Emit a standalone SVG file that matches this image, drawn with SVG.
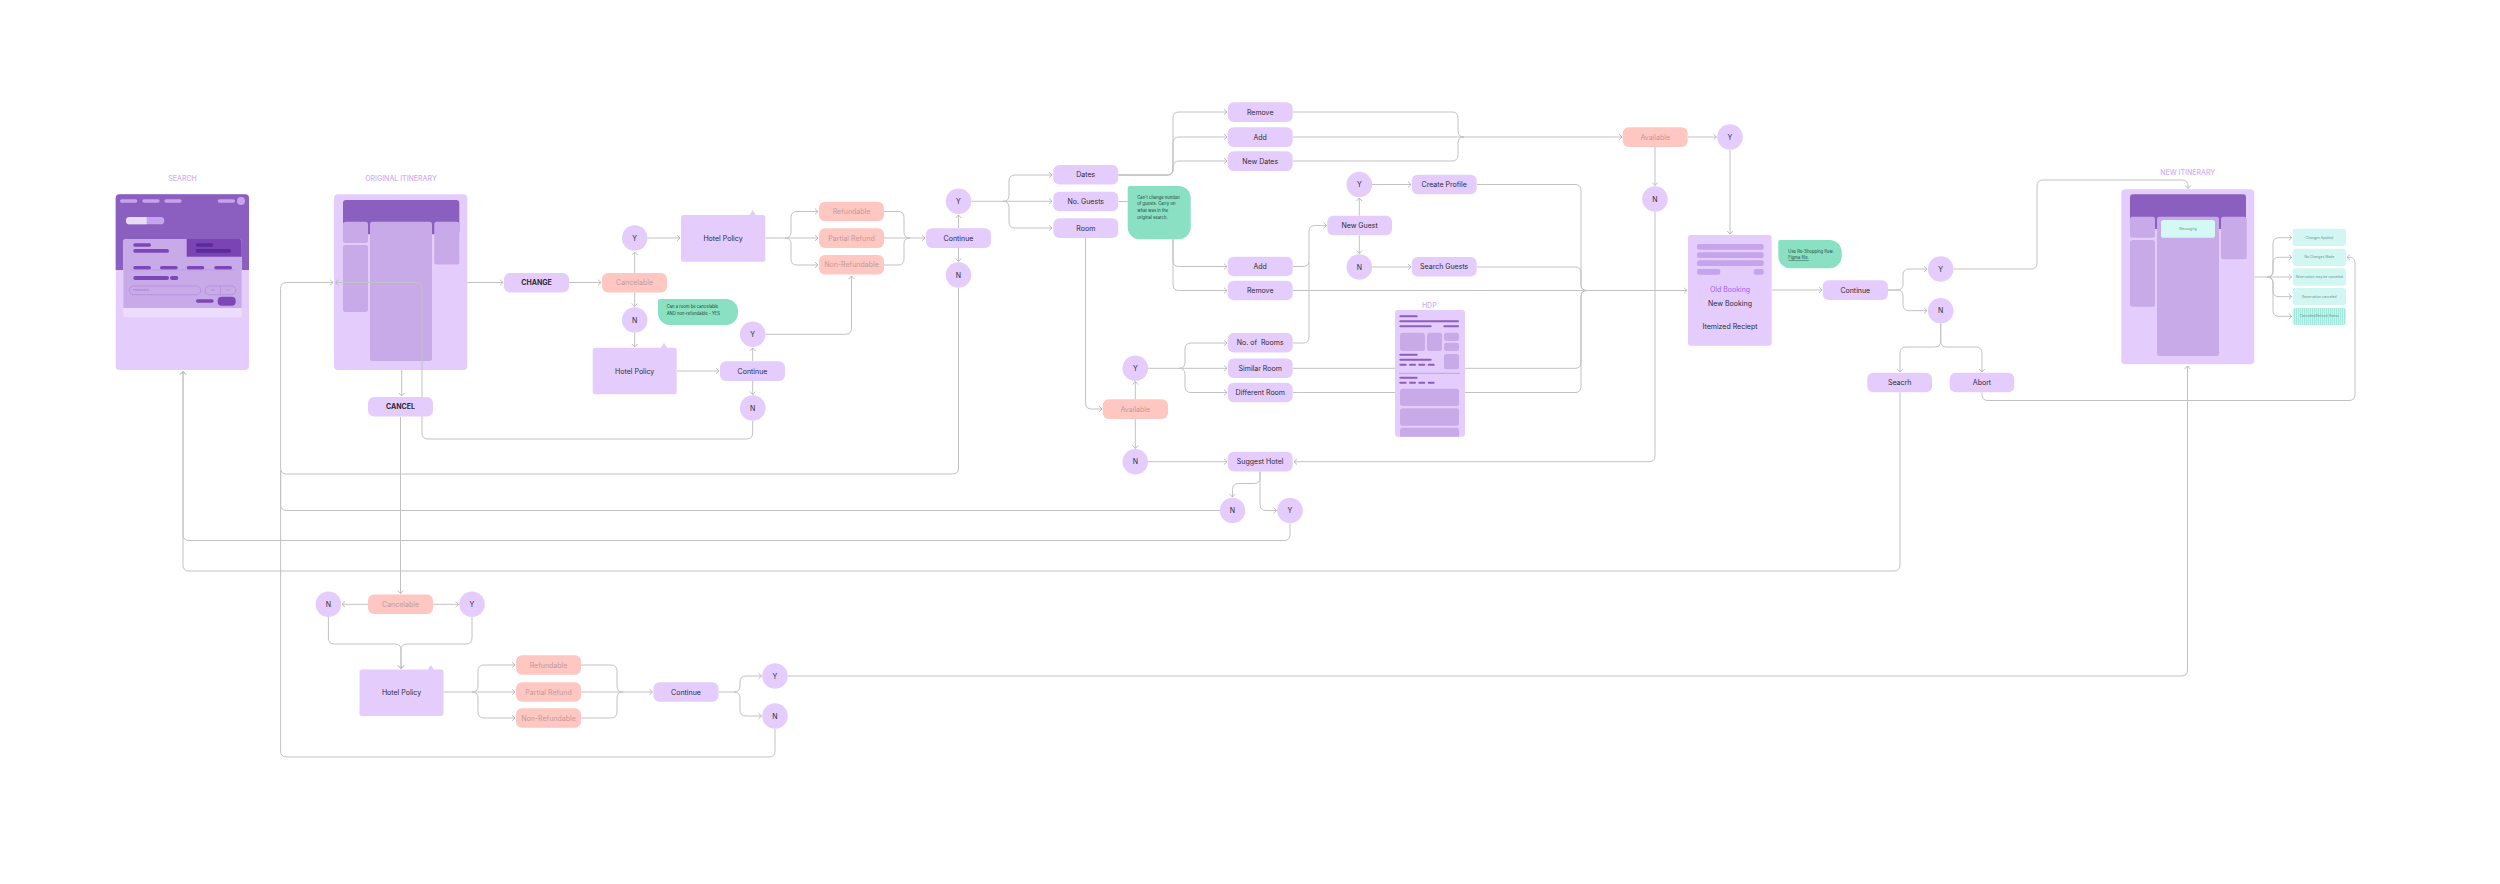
<svg xmlns="http://www.w3.org/2000/svg" width="2500" height="884" viewBox="0 0 2500 884">
<defs>
<style>
.t{font-family:Inter,"Noto Sans","Liberation Sans",sans-serif;font-size:7px;fill:#2e2a33;text-anchor:middle;dominant-baseline:central}
.b{font-weight:700}
.s{fill:#c39a98}
.lb{font-family:Inter,"Noto Sans","Liberation Sans",sans-serif;font-size:7px;font-weight:500;fill:#d2aef7;text-anchor:middle;dominant-baseline:central}
.nt{font-family:Inter,"Noto Sans","Liberation Sans",sans-serif;font-size:4.2px;fill:#24443a}
.cy{font-family:Inter,"Noto Sans","Liberation Sans",sans-serif;font-size:3.4px;fill:#6e9490;text-anchor:middle;dominant-baseline:central}
.pl{fill:#e4cdfd}
.sa{fill:#ffc7c2}
.gr{fill:#89e0c2}
.cb{fill:#d2f7f3}
.pn{fill:#c9aae8}
.dk{fill:#8b5fc0}
.db{fill:#7c47b6}
.ln{fill:none;stroke:#c2c2c2;stroke-width:1}
.ln path{marker-end:url(#ar)}
.ln path.nm{marker-end:none}
</style>
<marker id="ar" viewBox="0 0 6 8" markerWidth="6" markerHeight="8" refX="5" refY="4" orient="auto" markerUnits="userSpaceOnUse">
<path d="M2,1.2 L5,4 L2,6.8" fill="none" stroke="#b5b5b5" stroke-width="0.9"/>
</marker>
<pattern id="hatch" width="2" height="2" patternUnits="userSpaceOnUse">
<rect width="2" height="2" fill="#c9f4ef"/><rect width="1" height="2" fill="#a3e6dc"/>
</pattern>
</defs>
<rect width="2500" height="884" fill="#ffffff"/>

<!-- SEARCH frame -->
<g id="search">
<text class="lb" x="182.5" y="178">SEARCH</text>
<rect x="115.7" y="194.3" width="133.3" height="175.7" rx="4" class="pl"/>
<path d="M115.7,270 V198.3 Q115.7,194.3 119.7,194.3 H245 Q249,194.3 249,198.3 V270 Z" class="dk"/>
<g fill="#c6a4ec">
<rect x="120" y="199.3" width="17.3" height="3.4" rx="1.7"/>
<rect x="142.3" y="199.3" width="17.3" height="3.4" rx="1.7"/>
<rect x="164.3" y="199.3" width="17.3" height="3.4" rx="1.7"/>
<rect x="217.7" y="199.3" width="17.3" height="3.4" rx="1.7"/>
<circle cx="241" cy="201" r="4"/>
<rect x="126" y="217" width="38.3" height="7.3" rx="3.65"/>
</g>
<path d="M129.65,217 H146.7 V224.3 H129.65 A3.65,3.65 0 0 1 129.65,217 Z" fill="#e8ddf4"/>
<rect x="123.3" y="239" width="118.4" height="78.3" rx="2.5" fill="#ecdcfd"/>
<path d="M123.3,308 V241.5 Q123.3,239 125.8,239 H239.2 Q241.7,239 241.7,241.5 V308 Z" class="pn"/>
<path d="M186.7,256.7 V239 H239.2 Q241.7,239 241.7,241.5 V256.7 Z" fill="#7a44b5"/>
<g class="db">
<rect x="133.3" y="243.3" width="17.7" height="3.4" rx="1.7"/>
<rect x="133.3" y="249" width="35.7" height="3.8" rx="1.9"/>
<rect x="133.3" y="266" width="17.7" height="3.4" rx="1.7"/>
<rect x="160" y="266" width="17.7" height="3.4" rx="1.7"/>
<rect x="186.7" y="266" width="17.6" height="3.4" rx="1.7"/>
<rect x="214.3" y="266" width="17.7" height="3.4" rx="1.7"/>
<rect x="133.3" y="276" width="35.7" height="4" rx="2"/>
<rect x="170" y="276" width="8.3" height="4" rx="2"/>
<rect x="196" y="299.3" width="17.7" height="3.4" rx="1.7"/>
<rect x="217.7" y="296.7" width="18" height="9" rx="4"/>
</g>
<g fill="#5b2a9c">
<rect x="195.7" y="243.3" width="17.6" height="3.4" rx="1.7"/>
<rect x="195.7" y="249" width="35.3" height="3.8" rx="1.9"/>
</g>
<line x1="130" y1="269.9" x2="235" y2="269.9" stroke="#b08fd8" stroke-width="0.5"/>
<rect x="129.3" y="286" width="71.4" height="8.7" rx="4.3" fill="none" stroke="#a884d6" stroke-width="0.6"/>
<rect x="205" y="286" width="30.7" height="8.7" rx="4.3" fill="none" stroke="#a884d6" stroke-width="0.6"/>
<line x1="220.3" y1="286" x2="220.3" y2="294.7" stroke="#a884d6" stroke-width="0.6"/>
<g font-family="Inter,'Noto Sans',sans-serif" font-size="2.5" fill="#9a78c7">
<text x="133" y="291.2">Prepopulated</text>
<text x="211" y="291.2">XX</text>
<text x="226.5" y="291.2">YY</text>
</g>
</g>

<!-- ORIGINAL ITINERARY frame -->
<g id="original-itinerary">
<text class="lb" x="401" y="178">ORIGINAL ITINERARY</text>
<rect x="334" y="194.3" width="133.3" height="175.7" rx="4" class="pl"/>
<rect x="343" y="200" width="116.3" height="34.3" rx="3" class="dk"/>
<rect x="343" y="221.7" width="25" height="21.3" rx="2.5" class="pn"/>
<rect x="343" y="245" width="25" height="67" rx="2.5" class="pn"/>
<rect x="370" y="221.7" width="62" height="139.3" rx="2.5" class="pn"/>
<rect x="434.3" y="221.7" width="25" height="42.7" rx="2.5" class="pn"/>
</g>

<!-- NEW ITINERARY frame -->
<g id="new-itinerary">
<text class="lb" x="2187.7" y="172.5">NEW ITINERARY</text>
<rect x="2121.3" y="189.3" width="133" height="175" rx="4" class="pl"/>
<rect x="2130" y="194.3" width="116" height="34.7" rx="3" class="dk"/>
<rect x="2130" y="216.7" width="25" height="21" rx="2.5" class="pn"/>
<rect x="2130" y="240" width="25" height="66.7" rx="2.5" class="pn"/>
<rect x="2157" y="216.7" width="62" height="139.3" rx="2.5" class="pn"/>
<rect x="2221" y="216.7" width="25.7" height="42.6" rx="2.5" class="pn"/>
<rect x="2161" y="220" width="54" height="17.7" rx="2.5" fill="#d4f8f4"/>
<text class="cy" x="2188" y="228.8">Messaging</text>
</g>

<!-- connectors -->
<g id="connectors" class="ln">
<path d="M467.3,282.5 H503"/>
<path d="M569,282.5 H601"/>
<path d="M634.7,273 V252"/>
<path d="M634.7,292.3 V306.5"/>
<path d="M647.5,238 H680"/>
<path d="M634.7,333 V347"/>
<path class="nm" d="M765.5,238 H785"/>
<path d="M785,238 Q791,238 791,232 V217.5 Q791,211.5 797,211.5 H818"/>
<path d="M785,238 H818"/>
<path d="M785,238 Q791,238 791,244 V259 Q791,265 797,265 H818"/>
<path class="nm" d="M884,211.5 H898 Q904,211.5 904,217.5 V232 Q904,238 910,238"/>
<path d="M884,238 H925"/>
<path class="nm" d="M884,265 H898 Q904,265 904,259 V244 Q904,238 910,238"/>
<path d="M958.5,228 V215"/>
<path d="M958.5,248 V261.5"/>
<path class="nm" d="M971.5,201.3 H1003"/>
<path d="M1003,201.3 Q1009,201.3 1009,195.3 V181 Q1009,175 1015,175 H1052"/>
<path d="M1003,201.3 H1052"/>
<path d="M1003,201.3 Q1009,201.3 1009,207.3 V222 Q1009,228 1015,228 H1052"/>
<path d="M677,371 H719"/>
<path d="M752.7,361 V348"/>
<path d="M752.7,381 V394.5"/>
<path d="M765.5,334.3 H845.5 Q851.5,334.3 851.5,328.3 V276"/>
<path d="M752.7,421 V433 Q752.7,439 746.7,439 H428 Q422,439 422,433 V288.5 Q422,282.5 416,282.5 H335.5"/>
<path d="M958.5,288 V468 Q958.5,474 952.5,474 H286.6 Q280.6,474 280.6,468 V288.5 Q280.6,282.5 286.6,282.5 H333"/>
<path d="M1118.3,175 H1167 Q1173,175 1173,169 V118 Q1173,112 1179,112 H1227"/>
<path d="M1118.3,175 H1167 Q1173,175 1173,169 V143 Q1173,137 1179,137 H1227"/>
<path d="M1118.3,175 H1167 Q1173,175 1173,169 V167 Q1173,161 1179,161 H1227"/>
<path class="nm" d="M1118.3,201.5 H1127.7"/>
<path d="M1173,239.3 V260.5 Q1173,266.5 1179,266.5 H1227"/>
<path d="M1173,239.3 V284.5 Q1173,290.5 1179,290.5 H1227"/>
<path d="M1085.6,238 V403 Q1085.6,409 1091.6,409 H1102"/>
<path d="M1135.3,399.3 V381.5"/>
<path d="M1135.3,419 V448.5"/>
<path class="nm" d="M1148.1,368.3 H1179"/>
<path d="M1179,368.3 Q1185,368.3 1185,362.3 V349 Q1185,343 1191,343 H1227"/>
<path d="M1179,368.3 H1227"/>
<path d="M1179,368.3 Q1185,368.3 1185,374.3 V386.5 Q1185,392.5 1191,392.5 H1227"/>
<path d="M1148.1,461.7 H1227"/>
<path d="M1260,471.7 V477.5 Q1260,483.5 1254,483.5 H1238.5 Q1232.5,483.5 1232.5,489.5 V497"/>
<path d="M1260,471.7 V504.5 Q1260,510.5 1266,510.5 H1276.5"/>
<path class="nm" d="M1219.7,510.5 H286.6 Q280.6,510.5 280.6,504.5 V470"/>
<path d="M1290,523.3 V534.5 Q1290,540.5 1284,540.5 H189 Q183,540.5 183,534.5 V371.5"/>
<path d="M1293,266.5 H1303 Q1309,266.5 1309,260.5 V231.5 Q1309,225.5 1315,225.5 H1326.5"/>
<path class="nm" d="M1293,343 H1303 Q1309,343 1309,337 V262"/>
<path d="M1359.3,215.7 V198"/>
<path d="M1359.3,235.3 V253.5"/>
<path d="M1372.1,184.5 H1411"/>
<path d="M1372.1,267 H1411"/>
<path class="nm" d="M1477,184.5 H1575 Q1581,184.5 1581,190.5 V284.5 Q1581,290.5 1587,290.5"/>
<path class="nm" d="M1477,267 H1575 Q1581,267 1581,273 V284.5 Q1581,290.5 1587,290.5"/>
<path class="nm" d="M1293,368.3 H1575 Q1581,368.3 1581,362.3 V296.5 Q1581,290.5 1587,290.5"/>
<path class="nm" d="M1293,392.5 H1575 Q1581,392.5 1581,386.5 V296.5 Q1581,290.5 1587,290.5"/>
<path d="M1293,290.5 H1687"/>
<path class="nm" d="M1293,112 H1452 Q1458,112 1458,118 V131 Q1458,137 1464,137"/>
<path d="M1293,137 H1622"/>
<path class="nm" d="M1293,161 H1452 Q1458,161 1458,155 V143 Q1458,137 1464,137"/>
<path d="M1688,137 H1716.5"/>
<path d="M1655,146.7 V185.5"/>
<path d="M1730,150 V234"/>
<path d="M1655,212 V455.7 Q1655,461.7 1649,461.7 H1294"/>
<path d="M1772,290 H1822"/>
<path d="M1888,290 H1897 Q1903,290 1903,284 V275 Q1903,269 1909,269 H1927"/>
<path d="M1888,290 H1897 Q1903,290 1903,296 V304.7 Q1903,310.7 1909,310.7 H1927"/>
<path d="M1953.5,269 H2031 Q2037,269 2037,263 V186 Q2037,180 2043,180 H2182 Q2188,180 2188,186 V188.5"/>
<path d="M1940.7,323.5 V341 Q1940.7,347 1934.7,347 H1906 Q1900,347 1900,353 V372"/>
<path d="M1940.7,323.5 V341 Q1940.7,347 1946.7,347 H1976 Q1982,347 1982,353 V372"/>
<path d="M1900,392.3 V565 Q1900,571 1894,571 H189 Q183,571 183,565 V371.5"/>
<path d="M1982,392.3 V394.5 Q1982,400.5 1988,400.5 H2349 Q2355,400.5 2355,394.5 V263.3 Q2355,257.3 2349,257.3 H2347"/>
<path class="nm" d="M2254.5,277 H2267"/>
<path d="M2267,277 Q2273,277 2273,271 V243.7 Q2273,237.7 2279,237.7 H2291.7"/>
<path d="M2267,277 Q2273,277 2273,271 V263.3 Q2273,257.3 2279,257.3 H2291.7"/>
<path d="M2267,277 H2291.7"/>
<path d="M2267,277 Q2273,277 2273,283 V290.7 Q2273,296.7 2279,296.7 H2291.7"/>
<path d="M2267,277 Q2273,277 2273,283 V310.3 Q2273,316.3 2279,316.3 H2291.7"/>
<path d="M401.7,370 V396"/>
<path d="M400.5,417 V593.5"/>
<path d="M368,604.3 H342"/>
<path d="M433,604.3 H458.5"/>
<path d="M328.4,617.1 V638 Q328.4,644 334.4,644 H395 Q401,644 401,650 V668.5"/>
<path d="M472,617.1 V638 Q472,644 466,644 H407 Q401,644 401,650 V668.5"/>
<path class="nm" d="M443,692 H472"/>
<path d="M472,692 Q478,692 478,686 V671 Q478,665 484,665 H515"/>
<path d="M472,692 H515"/>
<path d="M472,692 Q478,692 478,698 V712 Q478,718 484,718 H515"/>
<path class="nm" d="M581,665 H611 Q617,665 617,671 V686 Q617,692 623,692"/>
<path d="M581,692 H652.5"/>
<path class="nm" d="M581,718 H611 Q617,718 617,712 V698 Q617,692 623,692"/>
<path class="nm" d="M718.5,692 H734"/>
<path d="M734,692 Q740,692 740,686 V682 Q740,676 746,676 H761.5"/>
<path d="M734,692 Q740,692 740,698 V710 Q740,716 746,716 H761.5"/>
<path d="M788,676 H2181.5 Q2187.5,676 2187.5,670 V366"/>
<path class="nm" d="M775,729 V751 Q775,757 769,757 H286.6 Q280.6,757 280.6,751 V470"/>
</g>

<!-- HDP frame (over connectors) -->
<g id="hdp">
<text class="lb" x="1429.3" y="305">HDP</text>
<rect x="1395" y="310" width="70" height="126.7" rx="3" class="pl"/>
<g class="dk">
<rect x="1399.3" y="315.3" width="18.4" height="2" rx="1"/>
<rect x="1399.3" y="320.3" width="59.7" height="2" rx="1"/>
<rect x="1399.3" y="325.3" width="32.4" height="2" rx="1"/>
<rect x="1443.3" y="325.3" width="15.7" height="2" rx="1"/>
<rect x="1399.3" y="353.7" width="18.4" height="2" rx="1"/>
<rect x="1399.3" y="358.7" width="32.4" height="2" rx="1"/>
<rect x="1399.3" y="363.7" width="7.4" height="2" rx="1"/>
<rect x="1409" y="363.7" width="7" height="2" rx="1"/>
<rect x="1418.3" y="363.7" width="7" height="2" rx="1"/>
<rect x="1427.7" y="363.7" width="7" height="2" rx="1"/>
<rect x="1399.3" y="376.7" width="18.4" height="2" rx="1"/>
<rect x="1399.3" y="381.7" width="7.4" height="2" rx="1"/>
<rect x="1409" y="381.7" width="7" height="2" rx="1"/>
<rect x="1418.3" y="381.7" width="7" height="2" rx="1"/>
<rect x="1427.7" y="381.7" width="7" height="2" rx="1"/>
</g>
<g class="pn">
<rect x="1400" y="332.7" width="25" height="18.3" rx="2.5"/>
<rect x="1427" y="332.7" width="15" height="18.3" rx="2.5"/>
<rect x="1444" y="332.7" width="15" height="8.3" rx="2.5"/>
<rect x="1444" y="342.7" width="15" height="8.3" rx="2.5"/>
<rect x="1444" y="354" width="15" height="15.3" rx="2.5"/>
<rect x="1400" y="388.7" width="59" height="17.3" rx="2.5"/>
<rect x="1400" y="408.3" width="59" height="17.4" rx="2.5"/>
<path d="M1400,436.7 V430.2 Q1400,427.7 1402.5,427.7 H1456.5 Q1459,427.7 1459,430.2 V436.7 Z"/>
</g>
<line x1="1399" y1="373.3" x2="1460" y2="373.3" stroke="#9d84bd" stroke-width="0.6"/>
</g>

<!-- nodes: pills -->
<g id="change"><rect class="pl" x="504" y="273" width="65" height="19.6" rx="6"/><text class="t b" x="536.5" y="282.8">CHANGE</text></g>
<g id="cancelable-top"><rect class="sa" x="602" y="273" width="65" height="19.6" rx="6"/><text class="t s" x="634.5" y="282.8">Cancelable</text></g>
<g id="refundable-top"><rect class="sa" x="819" y="201.7" width="65" height="19.6" rx="6"/><text class="t s" x="851.5" y="211.5">Refundable</text></g>
<g id="partial-top"><rect class="sa" x="819" y="228.3" width="65" height="19.6" rx="6"/><text class="t s" x="851.5" y="238.1">Partial Refund</text></g>
<g id="nonref-top"><rect class="sa" x="819" y="255" width="65" height="19.6" rx="6"/><text class="t s" x="851.5" y="264.8">Non-Refundable</text></g>
<g id="continue-top"><rect class="pl" x="926" y="228.3" width="65" height="19.6" rx="6"/><text class="t" x="958.5" y="238.1">Continue</text></g>
<g id="continue-mid"><rect class="pl" x="720" y="361.3" width="65" height="19.6" rx="6"/><text class="t" x="752.5" y="371.1">Continue</text></g>
<g id="dates"><rect class="pl" x="1053.3" y="165" width="65" height="19.6" rx="6"/><text class="t" x="1085.8" y="174.8">Dates</text></g>
<g id="no-guests"><rect class="pl" x="1053.3" y="191.7" width="65" height="19.6" rx="6"/><text class="t" x="1085.8" y="201.5">No. Guests</text></g>
<g id="room"><rect class="pl" x="1053.3" y="218.3" width="65" height="19.6" rx="6"/><text class="t" x="1085.8" y="228.1">Room</text></g>
<g id="remove-top"><rect class="pl" x="1227.7" y="102.3" width="65" height="19.6" rx="6"/><text class="t" x="1260.2" y="112.1">Remove</text></g>
<g id="add-top"><rect class="pl" x="1227.7" y="127.3" width="65" height="19.6" rx="6"/><text class="t" x="1260.2" y="137.1">Add</text></g>
<g id="new-dates"><rect class="pl" x="1227.7" y="151.3" width="65" height="19.6" rx="6"/><text class="t" x="1260.2" y="161.1">New Dates</text></g>
<g id="add-guest"><rect class="pl" x="1227.7" y="256.7" width="65" height="19.6" rx="6"/><text class="t" x="1260.2" y="266.5">Add</text></g>
<g id="remove-guest"><rect class="pl" x="1227.7" y="280.7" width="65" height="19.6" rx="6"/><text class="t" x="1260.2" y="290.5">Remove</text></g>
<g id="new-guest"><rect class="pl" x="1327.3" y="215.7" width="64.7" height="19.6" rx="6"/><text class="t" x="1359.6" y="225.5">New Guest</text></g>
<g id="create-profile"><rect class="pl" x="1411.7" y="174.7" width="65" height="19.6" rx="6"/><text class="t" x="1444.2" y="184.5">Create Profile</text></g>
<g id="search-guests"><rect class="pl" x="1411.7" y="257" width="65" height="19.6" rx="6"/><text class="t" x="1444.2" y="266.8">Search Guests</text></g>
<g id="no-rooms"><rect class="pl" x="1227.7" y="333" width="65" height="19.6" rx="6"/><text class="t" x="1260.2" y="342.8" style="white-space:pre">No. of  Rooms</text></g>
<g id="similar-room"><rect class="pl" x="1227.7" y="358.5" width="65" height="19.6" rx="6"/><text class="t" x="1260.2" y="368.3">Similar Room</text></g>
<g id="different-room"><rect class="pl" x="1227.7" y="382.7" width="65" height="19.6" rx="6"/><text class="t" x="1260.2" y="392.5">Different Room</text></g>
<g id="suggest-hotel"><rect class="pl" x="1227.7" y="451.8" width="65" height="19.6" rx="6"/><text class="t" x="1260.2" y="461.6">Suggest Hotel</text></g>
<g id="available-mid"><rect class="sa" x="1102.7" y="399.3" width="65.3" height="19.6" rx="6"/><text class="t s" x="1135.3" y="409.1">Available</text></g>
<g id="available-top"><rect class="sa" x="1622.7" y="127.3" width="65" height="19.6" rx="6"/><text class="t s" x="1655.2" y="137.1">Available</text></g>
<g id="continue-right"><rect class="pl" x="1822.7" y="280.3" width="65.3" height="19.6" rx="6"/><text class="t" x="1855.3" y="290.1">Continue</text></g>
<g id="seacrh"><rect class="pl" x="1867.3" y="372.7" width="64.7" height="19.6" rx="6"/><text class="t" x="1899.7" y="382.5">Seacrh</text></g>
<g id="abort"><rect class="pl" x="1949.7" y="372.7" width="64.6" height="19.6" rx="6"/><text class="t" x="1982" y="382.5">Abort</text></g>
<g id="cancel"><rect class="pl" x="368" y="397" width="65" height="19.6" rx="6"/><text class="t b" x="400.5" y="406.8">CANCEL</text></g>
<g id="cancelable-bottom"><rect class="sa" x="368" y="594.5" width="65" height="19.6" rx="6"/><text class="t s" x="400.5" y="604.3">Cancelable</text></g>
<g id="refundable-bottom"><rect class="sa" x="516" y="655.2" width="65" height="19.6" rx="6"/><text class="t s" x="548.5" y="665">Refundable</text></g>
<g id="partial-bottom"><rect class="sa" x="516" y="682.2" width="65" height="19.6" rx="6"/><text class="t s" x="548.5" y="692">Partial Refund</text></g>
<g id="nonref-bottom"><rect class="sa" x="516" y="708.2" width="65" height="19.6" rx="6"/><text class="t s" x="548.5" y="718">Non-Refundable</text></g>
<g id="continue-bottom"><rect class="pl" x="653.5" y="682.2" width="65" height="19.6" rx="6"/><text class="t" x="686" y="692">Continue</text></g>

<!-- Hotel Policy boxes -->
<g id="hotel-policy-1"><rect class="pl" x="681" y="215" width="84.3" height="46.7" rx="2.5"/><polygon class="pl" points="749.3,215.5 752.7,210 756.1,215.5"/><text class="t" x="723" y="238.3">Hotel Policy</text></g>
<g id="hotel-policy-2"><rect class="pl" x="592.7" y="347.7" width="84" height="46.6" rx="2.5"/><polygon class="pl" points="660.7,348.2 664,343 667.3,348.2"/><text class="t" x="634.7" y="371">Hotel Policy</text></g>
<g id="hotel-policy-3"><rect class="pl" x="359.5" y="669.5" width="84" height="46.6" rx="2.5"/><polygon class="pl" points="427.5,670 430.8,665 434.1,670"/><text class="t" x="401.5" y="692.8">Hotel Policy</text></g>

<!-- circles -->
<g id="y-cancelable" class="pl"><circle cx="634.7" cy="238" r="12.8"/><text class="t" x="634.7" y="238.2">Y</text></g>
<g id="n-cancelable" class="pl"><circle cx="634.7" cy="320" r="12.8"/><text class="t" x="634.7" y="320.2">N</text></g>
<g id="y-continue-mid" class="pl"><circle cx="752.7" cy="334.3" r="12.8"/><text class="t" x="752.7" y="334.5">Y</text></g>
<g id="n-continue-mid" class="pl"><circle cx="752.7" cy="408" r="12.8"/><text class="t" x="752.7" y="408.2">N</text></g>
<g id="y-continue-top" class="pl"><circle cx="958.5" cy="201.3" r="12.8"/><text class="t" x="958.5" y="201.5">Y</text></g>
<g id="n-continue-top" class="pl"><circle cx="958.5" cy="275" r="12.8"/><text class="t" x="958.5" y="275.2">N</text></g>
<g id="y-new-guest" class="pl"><circle cx="1359.3" cy="184.5" r="12.8"/><text class="t" x="1359.3" y="184.7">Y</text></g>
<g id="n-new-guest" class="pl"><circle cx="1359.3" cy="267" r="12.8"/><text class="t" x="1359.3" y="267.2">N</text></g>
<g id="y-available-mid" class="pl"><circle cx="1135.3" cy="368.3" r="12.8"/><text class="t" x="1135.3" y="368.5">Y</text></g>
<g id="n-available-mid" class="pl"><circle cx="1135.3" cy="461.7" r="12.8"/><text class="t" x="1135.3" y="461.9">N</text></g>
<g id="n-suggest" class="pl"><circle cx="1232.5" cy="510.5" r="12.8"/><text class="t" x="1232.5" y="510.7">N</text></g>
<g id="y-suggest" class="pl"><circle cx="1290" cy="510.5" r="12.8"/><text class="t" x="1290" y="510.7">Y</text></g>
<g id="n-available-top" class="pl"><circle cx="1655" cy="199" r="12.8"/><text class="t" x="1655" y="199.2">N</text></g>
<g id="y-available-top" class="pl"><circle cx="1730" cy="137" r="12.8"/><text class="t" x="1730" y="137.2">Y</text></g>
<g id="y-continue-right" class="pl"><circle cx="1940.7" cy="269" r="12.8"/><text class="t" x="1940.7" y="269.2">Y</text></g>
<g id="n-continue-right" class="pl"><circle cx="1940.7" cy="310.7" r="12.8"/><text class="t" x="1940.7" y="310.9">N</text></g>
<g id="n-cancelable-bottom" class="pl"><circle cx="328.4" cy="604.3" r="12.8"/><text class="t" x="328.4" y="604.5">N</text></g>
<g id="y-cancelable-bottom" class="pl"><circle cx="472" cy="604.3" r="12.8"/><text class="t" x="472" y="604.5">Y</text></g>
<g id="y-continue-bottom" class="pl"><circle cx="775" cy="676" r="12.8"/><text class="t" x="775" y="676.2">Y</text></g>
<g id="n-continue-bottom" class="pl"><circle cx="775" cy="716" r="12.8"/><text class="t" x="775" y="716.2">N</text></g>

<!-- notes -->
<g id="note-cancelable">
<path class="gr" d="M660,299 H726 A12,12 0 0 1 738,311 V313 A12,12 0 0 1 726,325 H670 A12,12 0 0 1 658,313 V301 A2,2 0 0 1 660,299 Z"/>
<text class="nt" x="666.7" y="308.2">Can a room be cancelable</text>
<text class="nt" x="666.7" y="314.8">AND non-refundable - YES</text>
</g>
<g id="note-guests">
<path class="gr" d="M1129.7,186 H1178.7 A12,12 0 0 1 1190.7,198 V227.3 A12,12 0 0 1 1178.7,239.3 H1139.7 A12,12 0 0 1 1127.7,227.3 V188 A2,2 0 0 1 1129.7,186 Z"/>
<text class="nt" x="1137.3" y="198.5">Can't change number</text>
<text class="nt" x="1137.3" y="205.2">of guests. Carry on</text>
<text class="nt" x="1137.3" y="211.8">what was in the</text>
<text class="nt" x="1137.3" y="218.5">original search.</text>
</g>
<g id="note-reshopping">
<path class="gr" d="M1780.3,240 H1829.7 A12,12 0 0 1 1841.7,252 V256.3 A12,12 0 0 1 1829.7,268.3 H1790.3 A12,12 0 0 1 1778.3,256.3 V242 A2,2 0 0 1 1780.3,240 Z"/>
<text class="nt" x="1788.3" y="252.5">Use Re-Shopping flow.</text>
<text class="nt" x="1788.3" y="259.2" text-decoration="underline">Figma file.</text>
</g>

<!-- Old booking -->
<g id="booking-summary">
<rect class="pl" x="1688" y="235" width="83.7" height="110.7" rx="3"/>
<g fill="#c6a3ea">
<rect x="1697" y="244" width="66.7" height="5.7" rx="2"/>
<rect x="1697" y="252.3" width="66.7" height="5.7" rx="2"/>
<rect x="1697" y="260.3" width="66.7" height="5.7" rx="2"/>
<rect x="1697" y="269" width="23.3" height="5.7" rx="2"/>
<rect x="1753.7" y="269" width="10" height="5.7" rx="2"/>
</g>
<text class="t" x="1730" y="289" style="fill:#a45cf5">Old Booking</text>
<text class="t" x="1730" y="303.7">New Booking</text>
<text class="t" x="1730" y="326.3">Itemized Reciept</text>
</g>

<!-- messages -->
<g id="msg-changes-applied"><rect class="cb" x="2292.7" y="228.7" width="53.3" height="17.3" rx="3"/><text class="cy" x="2319.3" y="237.5">Changes Applied</text></g>
<g id="msg-no-changes"><rect class="cb" x="2292.7" y="248.7" width="53.3" height="17.3" rx="3"/><text class="cy" x="2319.3" y="257.4">No Changes Made</text></g>
<g id="msg-may-cancel"><rect class="cb" x="2292.7" y="268.3" width="53.3" height="17.4" rx="3"/><text class="cy" x="2319.3" y="277.1">Reservation may be canceled</text></g>
<g id="msg-canceled"><rect class="cb" x="2292.7" y="288" width="53.3" height="17.3" rx="3"/><text class="cy" x="2319.3" y="296.7">Reservation canceled</text></g>
<g id="msg-refund-status"><rect x="2292.7" y="307.7" width="53.3" height="17.3" rx="3" fill="url(#hatch)"/><text class="cy" x="2319.3" y="316.4">Canceled/Refund Status</text></g>
</svg>
